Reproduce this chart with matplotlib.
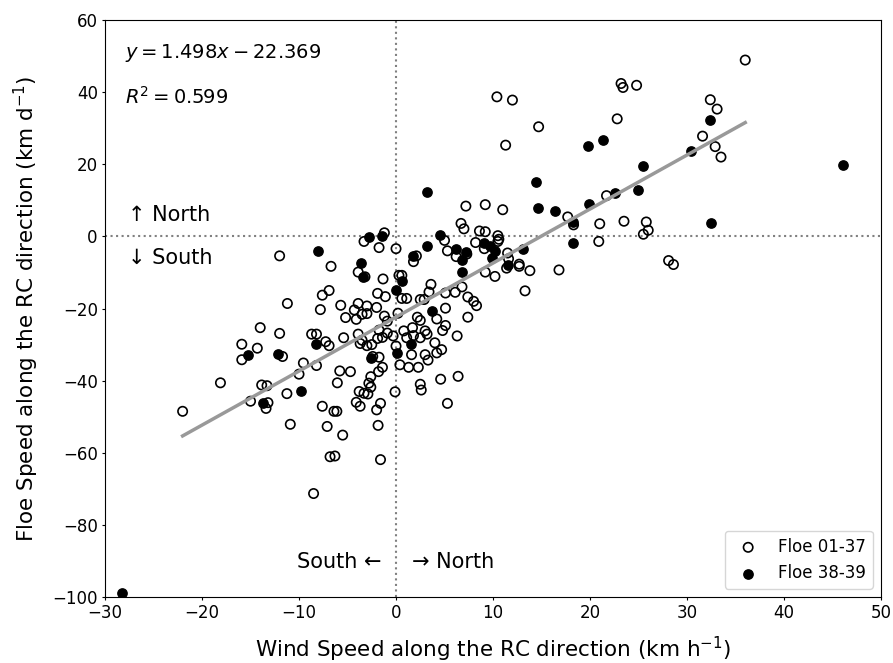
import numpy as np
import matplotlib
matplotlib.use("Agg")
import matplotlib.pyplot as plt


# Floe 01-37 (open circles): wind speed (km/h), floe speed (km/d)
wind_a = [-1.2, -3.3, -1.75, -12.0, -6.7, -3.9, -3.2, -1.34,
          -6.9, -7.6, -1.9, -1.1, -11.2, -7.8, -5.7, -3.9, -3.0, -4.3, -2.0, -3.5, -3.0,
          -5.2, -4.1, -1.2, -0.9,
          -14.0, -12.0, -8.7, -8.2, -5.4, -3.9, -3.5, -1.75, -1.4, -1.9, -0.9,
          -15.9, -15.9, -14.3, -7.25, -6.9, -11.7, -9.55, -8.2, -5.8, -4.7,
          -3.7, -3.0, -2.5, -2.4, -1.75, -1.4, -1.8,
          -22.0, -18.1, -13.85, -13.3, -10.0, -11.25, -15.0, -13.2, -13.4, -10.9,
          -7.6, -6.4, -6.1, -6.05, -7.1, -5.5, -6.8, -6.3, -8.5, -1.6, -1.85, -2.0,
          -1.6, -4.1, -3.7, -3.8, -3.3, -2.9, -2.8, -2.6, -2.6, -0.1, 2.5, 2.6,
          4.6, 6.4, 5.3,
          7.2, 9.2, 11.0, 17.7, 18.3, 21.0, 20.9, 6.7, 7.0, 5.0, 0.0, 8.6, 9.2,
          10.5, 10.6, 10.5, 8.2, 9.1, 11.5, 11.6, 11.4, 12.7, 12.7, 13.8, 16.8,
          13.3, 7.3, 6.2, 5.3, 9.2, 10.2, 2.1, 1.8, 0.3, 0.6, 3.6, 3.4, 0.6, 1.1,
          2.5, 2.9, 5.1, 6.1, 6.8, 7.4, 8.0, 8.3, 5.1, 7.4, 0.2, 2.2, 2.5, 4.2,
          5.1, 4.8, 6.3, 0.8, 1.7, 3.0, 3.2, -0.3, 1.1, 1.8, 2.5, 0.0, 4.0, 4.2,
          4.7, 3.0, 3.3, 1.6, 0.4, 1.3, 2.3,
          36.0, 23.2, 23.4, 24.8, 10.4, 12.0, 32.4, 33.1, 22.8, 14.7, 11.3, 31.6,
          32.9, 33.5, 21.7,
          23.5, 25.8, 26.0, 25.5, 28.1, 28.6]
floe_a = [1.0, -1.4, -3.1, -5.4, -8.3, -9.9, -11.2, -11.8,
          -15.0, -16.3, -15.8, -16.7, -18.6, -20.3, -19.1, -18.6, -19.3, -20.4, -19.7, -21.6, -21.4,
          -22.5, -23.0, -22.1, -23.5,
          -25.3, -26.9, -27.1, -27.1, -28.1, -27.1, -28.8, -26.0, -28.0, -28.3, -26.8,
          -29.9, -34.2, -31.0, -29.2, -30.3, -33.3, -35.1, -35.8, -37.3, -37.5,
          -29.7, -30.3, -30.0, -33.3, -33.5, -36.3, -37.5,
          -48.5, -40.6, -41.2, -41.4, -38.2, -43.6, -45.7, -46.1, -47.7, -52.1,
          -47.1, -48.5, -48.5, -40.6, -52.7, -55.1, -61.1, -60.9, -71.3, -61.9, -52.4, -48.1,
          -46.3, -46.0, -47.1, -43.0, -43.5, -43.7, -40.7, -41.8, -38.9, -43.1, -41.0, -42.6,
          -39.6, -38.8, -46.3,
          8.4, 8.8, 7.4, 5.4, 3.2, 3.5, -1.4, 3.6, 2.1, -1.1, -3.4, 1.5, 1.3,
          0.2, -0.8, -1.4, -1.7, -3.4, -4.6, -6.2, -8.8, -7.7, -8.3, -9.5, -9.3,
          -15.1, -4.9, -5.6, -4.0, -9.9, -11.1, -5.4, -7.0, -10.8, -10.8, -13.3, -15.4, -17.2, -17.2,
          -17.5, -17.5, -15.7, -15.5, -14.0, -16.8, -18.0, -19.2, -19.9, -22.4, -21.3, -22.4, -23.3, -22.9,
          -24.7, -26.1, -27.6, -26.2, -25.3, -26.2, -27.1, -27.6, -28.1, -27.5, -28.1, -30.4, -29.5, -32.3,
          -31.4, -32.8, -34.3, -32.8, -35.6, -36.3, -36.3,
          48.9, 42.4, 41.3, 41.9, 38.7, 37.8, 37.9, 35.3, 32.6, 30.4, 25.3, 27.8,
          24.9, 22.0, 11.3,
          4.2, 4.0, 1.7, 0.6, -6.7, -7.8]

# Floe 38-39 (filled circles)
wind_b = [-28.3, -15.3, -13.7, -12.2, -9.8, -8.0, -8.2, -3.6, -3.4, -2.8, -1.4,
          -2.6, 0.0, 0.6, 1.5, 0.1, 1.75, 3.2, 3.2, 4.5, 3.7, 6.2, 7.2, 6.85, 6.8,
          9.1, 9.7, 10.2, 9.9, 11.5, 13.1, 14.6, 16.4, 18.2, 19.9, 18.2, 14.4,
          19.8, 21.3, 22.6, 24.9, 25.5, 30.4, 32.4, 32.5, 46.1]
floe_b = [-99.0, -32.8, -46.3, -32.5, -42.9, -4.0, -29.9, -7.3, -11.2, -0.1, 0.0,
          -33.7, -14.8, -12.4, -29.7, -32.2, -5.4, -2.8, 12.2, 0.5, -20.6, -3.4, -4.3, -6.5, -9.9,
          -1.7, -2.6, -4.1, -5.9, -7.9, -3.6, 7.8, 7.1, 4.0, 9.0, -1.8, 15.1,
          25.0, 26.7, 11.9, 13.0, 19.6, 23.7, 32.4, 3.6, 19.7]

slope = 1.498
intercept = -22.369
r2 = 0.599

fig = plt.figure(figsize=(8.93, 6.63), dpi=100)
ax = fig.add_axes([0.1176, 0.0995, 0.869, 0.8703])

ax.axvline(0, color='grey', linestyle=':', linewidth=1.5, zorder=1)
ax.axhline(0, color='grey', linestyle=':', linewidth=1.5, zorder=1)

ax.scatter(wind_a, floe_a, s=45, facecolors='none', edgecolors='black',
           linewidths=1.2, label='Floe 01-37', zorder=3)
ax.scatter(wind_b, floe_b, s=45, color='black', label='Floe 38-39', zorder=3)

xfit = np.array([min(wind_a), max(wind_a)])
ax.plot(xfit, slope * xfit + intercept, color='#999999', linewidth=2.5, zorder=4)

ax.text(-27.9, 50.8, r'$y = {:.3f}x - {:.3f}$'.format(slope, -intercept),
        fontsize=14, va='center', ha='left')
ax.text(-27.9, 38.7, r'$R^2 = {:.3f}$'.format(r2), fontsize=14, va='center', ha='left')
ax.text(-27.6, 5.9, '↑ North', fontsize=15, va='center', ha='left')
ax.text(-27.6, -5.9, '↓ South', fontsize=15, va='center', ha='left')
ax.text(-1.5, -90.2, 'South ←', fontsize=15, va='center', ha='right')
ax.text(1.6, -90.2, '→ North', fontsize=15, va='center', ha='left')

ax.set_xlim(-30, 50)
ax.set_ylim(-100, 60)
ax.set_xlabel(r'Wind Speed along the RC direction (km h$^{-1}$)', fontsize=15.5, labelpad=9)
ax.set_ylabel(r'Floe Speed along the RC direction (km d$^{-1}$)', fontsize=15.5, labelpad=8)
ax.tick_params(labelsize=12, length=2.2, pad=3)
ax.legend(loc='lower right', fontsize=12)

plt.savefig('out.png', dpi=100)
